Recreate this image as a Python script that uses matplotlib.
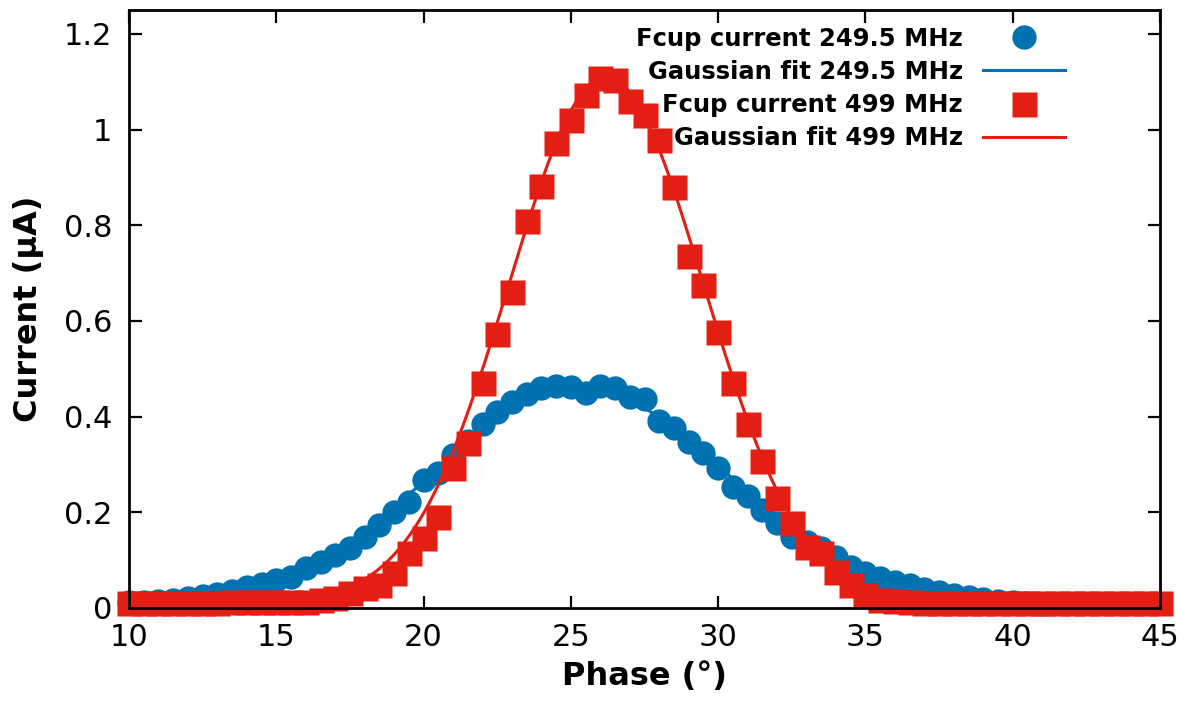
import numpy as np
import matplotlib
matplotlib.use("Agg")
import matplotlib.pyplot as plt
from matplotlib.ticker import FuncFormatter

# ---- data ----
phase_blue = [10.0, 10.5, 11.0, 11.5, 12.0, 12.5, 13.0, 13.5, 14.0, 14.5,
              15.0, 15.5, 16.0, 16.5, 17.0, 17.5, 18.0, 18.5, 19.0, 19.5,
              20.0, 20.5, 21.0, 21.5, 22.0, 22.5, 23.0, 23.5, 24.0, 24.5,
              25.0, 25.5, 26.0, 26.5, 27.0, 27.5, 28.0, 28.5, 29.0, 29.5,
              30.0, 30.5, 31.0, 31.5, 32.0, 32.5, 33.0, 33.5, 34.0, 34.5,
              35.0, 35.5, 36.0, 36.5, 37.0, 37.5, 38.0, 38.5, 39.0, 39.5,
              40.0, 40.5, 41.0]
current_blue = [0.012, 0.013, 0.015, 0.017, 0.020, 0.025, 0.030, 0.036, 0.043, 0.050,
                0.058, 0.065, 0.083, 0.096, 0.110, 0.125, 0.148, 0.173, 0.200, 0.221,
                0.267, 0.283, 0.320, 0.350, 0.385, 0.410, 0.430, 0.448, 0.460, 0.465,
                0.462, 0.450, 0.465, 0.460, 0.440, 0.437, 0.390, 0.377, 0.346, 0.325,
                0.292, 0.252, 0.235, 0.204, 0.177, 0.148, 0.138, 0.125, 0.106, 0.085,
                0.073, 0.063, 0.055, 0.048, 0.040, 0.033, 0.027, 0.022, 0.018, 0.014,
                0.012, 0.010, 0.008]

phase_red = [10.0, 10.5, 11.0, 11.5, 12.0, 12.5, 13.0, 13.5, 14.0, 14.5,
             15.0, 15.5, 16.0, 16.5, 17.0, 17.5, 18.0, 18.5, 19.0, 19.5,
             20.0, 20.5, 21.0, 21.5, 22.0, 22.5, 23.0, 23.5, 24.0, 24.5,
             25.0, 25.5, 26.0, 26.5, 27.0, 27.5, 28.0, 28.5, 29.0, 29.5,
             30.0, 30.5, 31.0, 31.5, 32.0, 32.5, 33.0, 33.5, 34.0, 34.5,
             35.0, 35.5, 36.0, 36.5, 37.0, 37.5, 38.0, 38.5, 39.0, 39.5,
             40.0, 40.5, 41.0, 41.5, 42.0, 42.5, 43.0, 43.5, 44.0, 44.5,
             45.0]
current_red = [0.010, 0.010, 0.010, 0.010, 0.010, 0.010, 0.010, 0.012, 0.012, 0.012,
               0.012, 0.013, 0.013, 0.016, 0.021, 0.031, 0.042, 0.048, 0.073, 0.115,
               0.146, 0.190, 0.292, 0.345, 0.471, 0.573, 0.660, 0.808, 0.883, 0.971,
               1.021, 1.073, 1.108, 1.104, 1.060, 1.031, 0.979, 0.879, 0.735, 0.675,
               0.577, 0.471, 0.385, 0.308, 0.229, 0.177, 0.127, 0.115, 0.075, 0.048,
               0.027, 0.017, 0.014, 0.012, 0.010, 0.010, 0.010, 0.010, 0.010, 0.010,
               0.010, 0.010, 0.010, 0.010, 0.010, 0.010, 0.010, 0.010, 0.010, 0.010,
               0.010]

# Gaussian fit parameters (amplitude, centre, sigma, offset)
fit_blue = (0.455, 25.3, 5.0, 0.005)
fit_red = (1.10, 26.2, 3.3, 0.010)

labels = ["Fcup current 249.5 MHz", "Gaussian fit 249.5 MHz",
          "Fcup current 499 MHz", "Gaussian fit 499 MHz"]
x_ticks = [10, 15, 20, 25, 30, 35, 40, 45]
y_ticks = [0, 0.2, 0.4, 0.6, 0.8, 1.0, 1.2]

BLUE = "#0072B2"
RED = "#E41E12"


def gauss(x, p):
    a, c, s, o = p
    return a * np.exp(-0.5 * ((x - c) / s) ** 2) + o


fig = plt.figure(figsize=(11.86, 7.01), dpi=100)
ax = fig.add_axes([0.1088, 0.1327, 0.8693, 0.853])

xs = np.linspace(10, 45, 600)

ax.plot(phase_blue, current_blue, linestyle="none", marker="o", ms=17.5,
        color=BLUE, mec="none", clip_on=False, label=labels[0], zorder=3)
ax.plot(xs, gauss(xs, fit_blue), color=BLUE, lw=2.2, label=labels[1], zorder=4)
ax.plot(phase_red, current_red, linestyle="none", marker="s", ms=18.0,
        color=RED, mec="none", clip_on=False, label=labels[2], zorder=5)
ax.plot(xs, gauss(xs, fit_red), color=RED, lw=2.2, label=labels[3], zorder=6)

ax.set_xlim(10, 45)
ax.set_ylim(0, 1.25)
ax.set_xticks(x_ticks)
ax.set_yticks(y_ticks)
ax.yaxis.set_major_formatter(FuncFormatter(lambda v, p: "%g" % v))
ax.xaxis.set_major_formatter(FuncFormatter(lambda v, p: "%g" % v))

ax.tick_params(which="major", direction="in", length=9, width=1.6,
               top=True, right=True, labelsize=22)
ax.tick_params(axis="y", pad=12)
ax.tick_params(axis="x", pad=11)
for sp in ax.spines.values():
    sp.set_linewidth(2.0)
    sp.set_zorder(10)

ax.set_xlabel("Phase (°)", fontsize=23, fontweight="bold", labelpad=6)
ax.set_ylabel("Current (μA)", fontsize=23, fontweight="bold", labelpad=14)

leg = ax.legend(loc="upper right", bbox_to_anchor=(0.908, 0.972),
                frameon=False, markerfirst=False, borderaxespad=0,
                borderpad=0, handlelength=3.4, handletextpad=0.8,
                labelspacing=0.38, prop={"size": 17.5, "weight": "bold"})

fig.savefig("out.png", dpi=100)
